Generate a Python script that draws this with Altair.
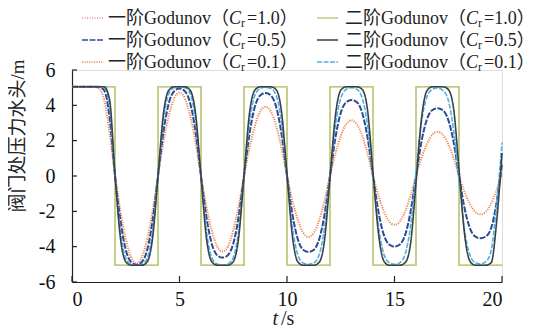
import altair as alt
import pandas as pd

# ---------------- data ----------------
t_grid = [0, 0.25, 0.5, 0.75, 1,
          1.25, 1.5, 1.75, 2, 2.25, 2.5, 2.75, 3, 3.25, 3.5, 3.75, 4,
          4.25, 4.5, 4.75, 5, 5.25, 5.5, 5.75, 6, 6.25, 6.5, 6.75, 7,
          7.25, 7.5, 7.75, 8, 8.25, 8.5, 8.75, 9, 9.25, 9.5, 9.75, 10,
          10.25, 10.5, 10.75, 11, 11.25, 11.5, 11.75, 12, 12.25, 12.5, 12.75, 13,
          13.25, 13.5, 13.75, 14, 14.25, 14.5, 14.75, 15, 15.25, 15.5, 15.75, 16,
          16.25, 16.5, 16.75, 17, 17.25, 17.5, 17.75, 18, 18.25, 18.5, 18.75, 19,
          19.25, 19.5, 19.75, 20]

# exact square wave (Cr = 1.0, both schemes)
sq_t = [0, 2, 2, 4, 4, 6, 6, 8, 8, 10, 10, 12, 12, 14, 14, 16, 16, 18, 18, 20]
sq_h = [5.05, 5.05, -5.05, -5.05, 5.05, 5.05, -5.05, -5.05, 5.05, 5.05,
        -5.05, -5.05, 5.05, 5.05, -5.05, -5.05, 5.05, 5.05, -5.05, -5.05]

# 一阶 Godunov, Cr = 0.1 (orange dotted)
h1_01 = [5.05, 5.05, 5.05, 5.05, 5.05,
         4.95, 4.3, 2.4, 0.1,
         -1.98, -3.56, -4.6, -4.95,
         -4.6, -3.56, -1.98, 0.0,
         1.9, 3.4, 4.39, 4.72,
         4.39, 3.4, 1.9, 0.0,
         -1.71, -3.08, -3.98, -4.28,
         -3.98, -3.08, -1.71, 0.0,
         1.57, 2.82, 3.65, 3.92,
         3.65, 2.82, 1.57, 0.0,
         -1.38, -2.48, -3.21, -3.45,
         -3.21, -2.48, -1.38, 0.0,
         1.26, 2.27, 2.93, 3.15,
         2.93, 2.27, 1.26, 0.0,
         -1.1, -1.99, -2.57, -2.76,
         -2.57, -1.99, -1.1, 0.0,
         1.0, 1.8, 2.33, 2.5,
         2.33, 1.8, 1.0, 0.0,
         -0.87, -1.56, -2.02, -2.17,
         -2.02, -1.56, -0.8, 0.1]

# 一阶 Godunov, Cr = 0.5 (navy dashed)
h1_05 = [5.05, 5.05, 5.05, 5.05, 5.05,
         5.05, 4.85, 3.3, 0.0,
         -2.51, -4.17, -4.87, -5.02,
         -4.87, -4.17, -2.51, 0.0,
         2.48, 4.11, 4.8, 4.95,
         4.8, 4.11, 2.48, 0.0,
         -2.31, -3.83, -4.48, -4.62,
         -4.48, -3.83, -2.31, 0.0,
         2.35, 3.9, 4.56, 4.7,
         4.56, 3.9, 2.35, 0.0,
         -2.15, -3.57, -4.17, -4.3,
         -4.17, -3.57, -2.15, 0.0,
         2.15, 3.57, 4.17, 4.3,
         4.17, 3.57, 2.15, 0.0,
         -2.0, -3.32, -3.88, -4.0,
         -3.88, -3.32, -2.0, 0.0,
         1.92, 3.18, 3.72, 3.83,
         3.72, 3.18, 1.92, 0.0,
         -1.77, -2.93, -3.42, -3.53,
         -3.42, -2.93, -1.5, 0.7]

# 二阶 Godunov, Cr = 0.1 (light blue dashed)
h2_01 = [5.05, 5.05, 5.05, 5.05, 5.05,
         5.05, 5.0, 3.9, 0.0,
         -3.13, -4.65, -5.0, -5.05,
         -5.0, -4.65, -3.13, 0.0,
         3.13, 4.65, 5.0, 5.05,
         5.0, 4.65, 3.13, 0.0,
         -3.1, -4.62, -4.98, -5.05,
         -4.98, -4.62, -3.1, 0.0,
         3.0, 4.55, 4.95, 5.02,
         4.95, 4.55, 3.0, 0.0,
         -2.9, -4.45, -4.92, -5.0,
         -4.92, -4.45, -2.9, 0.0,
         2.85, 4.4, 4.9, 5.0,
         4.9, 4.4, 2.85, 0.0,
         -2.8, -4.4, -4.9, -5.0,
         -4.9, -4.4, -2.8, 0.2,
         3.0, 4.45, 4.9, 4.98,
         4.85, 4.3, 2.6, -0.2,
         -3.0, -4.45, -4.9, -4.98,
         -4.85, -4.2, -1.6, 1.9]

# 二阶 Godunov, Cr = 0.5 (dark grey solid)
h2_05 = [5.05, 5.05, 5.05, 5.05, 5.05,
         5.05, 5.05, 4.3, 0.1,
         -3.5, -4.85, -5.05, -5.05,
         -5.05, -4.85, -3.5, 0.0,
         3.5, 4.85, 5.05, 5.05,
         5.05, 4.85, 3.5, 0.0,
         -3.5, -4.85, -5.05, -5.05,
         -5.05, -4.85, -3.5, 0.0,
         3.5, 4.85, 5.05, 5.05,
         5.05, 4.88, 3.6, 0.1,
         -3.4, -4.85, -5.05, -5.05,
         -5.05, -4.88, -3.6, -0.1,
         3.4, 4.85, 5.05, 5.05,
         5.05, 4.9, 3.7, 0.2,
         -3.2, -4.8, -5.05, -5.05,
         -5.05, -4.9, -3.8, -0.4,
         3.2, 4.8, 5.05, 5.05,
         5.05, 4.9, 3.8, 0.4,
         -3.2, -4.8, -5.05, -5.05,
         -5.05, -4.9, -2.6, 1.3]

x_ticks = [0, 5, 10, 15, 20]
y_ticks = [-6, -4, -2, 0, 2, 4, 6]

schemes = ["一阶", "一阶", "一阶", "二阶", "二阶", "二阶"]
courant = ["1.0", "0.5", "0.1", "1.0", "0.5", "0.1"]

# ---------------- styles ----------------
SERIF = "Liberation Serif, Noto Sans CJK SC"
W, H = 430, 212
styles = [
    dict(color="#e8504a", strokeDash=[1, 1.5], strokeWidth=1.2),   # 一阶 1.0
    dict(color="#2e4a94", strokeDash=[6, 1.5], strokeWidth=2),     # 一阶 0.5
    dict(color="#f08a55", strokeDash=[1.2, 1.2], strokeWidth=2),   # 一阶 0.1
    dict(color="#b8cf78", strokeDash=[1, 0], strokeWidth=1.6),     # 二阶 1.0
    dict(color="#3c3f44", strokeDash=[1, 0], strokeWidth=1.6),     # 二阶 0.5
    dict(color="#4fb3e3", strokeDash=[5, 1.5], strokeWidth=1.6),   # 二阶 0.1
]

xs = alt.Scale(domain=[0, 20], nice=False, zero=False)
ys = alt.Scale(domain=[-6, 6], nice=False, zero=False)
ax_x = alt.Axis(values=x_ticks, grid=False, ticks=False, domainColor="#222",
                domainWidth=1.2, labelFont=SERIF, labelFontSize=20,
                labelColor="#111", labelPadding=7, title=None, labelOverlap=False)
ax_y = alt.Axis(values=y_ticks, grid=False, ticks=False, domainColor="#222",
                domainWidth=1.2, labelFont=SERIF, labelFontSize=20,
                labelColor="#111", labelPadding=17, title=None, labelOverlap=False,
                labelExpr="replace(datum.label, '\u2212', '-')")

sq_df = pd.DataFrame({"t": sq_t, "h": sq_h, "i": list(range(len(sq_t)))})


def curve_df(vals):
    return pd.DataFrame({"t": t_grid, "h": vals, "i": list(range(len(t_grid)))})


def line_layer(df, k, interp="linear"):
    st = styles[k]
    return alt.Chart(df).mark_line(
        color=st["color"], strokeDash=st["strokeDash"],
        strokeWidth=st["strokeWidth"], interpolate=interp, clip=False
    ).encode(x=alt.X("t:Q", scale=xs, axis=ax_x),
             y=alt.Y("h:Q", scale=ys, axis=ax_y), order="i:Q")


layers = [
    line_layer(sq_df, 0),
    line_layer(sq_df, 3),
    line_layer(curve_df(h1_01), 2, "monotone"),
    line_layer(curve_df(h1_05), 1, "monotone"),
    line_layer(curve_df(h2_01), 5, "monotone"),
    line_layer(curve_df(h2_05), 4, "monotone"),
]

# inward ticks
ytk = alt.Chart(pd.DataFrame({"h": y_ticks})).mark_rule(color="#222", strokeWidth=1.2).encode(
    y=alt.Y("h:Q", scale=ys, axis=ax_y), x=alt.value(0), x2=alt.value(5))
xtk = alt.Chart(pd.DataFrame({"t": x_ticks})).mark_rule(color="#222", strokeWidth=1.2).encode(
    x=alt.X("t:Q", scale=xs, axis=ax_x), y=alt.value(H), y2=alt.value(H - 6))
layers += [ytk, xtk]

# legend (two columns, three rows)
one = pd.DataFrame({"a": [0]})
FS = 18
col_sym = [(10, 31), (245, 266)]
col_txt = [36, 273]
row_y = [-52, -30, -8]


def txt(text, x, y, size=FS, style="normal", align="left", baseline="middle", angle=0):
    return alt.Chart(one).mark_text(
        text=text, font=SERIF, fontSize=size, fontStyle=style, fontWeight="normal",
        color="#222", align=align, baseline=baseline, angle=angle
    ).encode(x=alt.value(x), y=alt.value(y))


for k in range(6):
    c, r = divmod(k, 3)
    st = styles[k]
    y = row_y[r]
    x0 = col_txt[c]
    layers.append(alt.Chart(one).mark_rule(
        color=st["color"], strokeDash=st["strokeDash"],
        strokeWidth=min(st["strokeWidth"], 1.6)).encode(
        x=alt.value(col_sym[c][0]), x2=alt.value(col_sym[c][1]), y=alt.value(y)))
    layers.append(txt(schemes[k] + "Godunov\uff08", x0, y + 1))
    layers.append(txt("C", x0 + 121, y + 1, style="italic"))
    layers.append(txt("r", x0 + 133, y + 5, size=12))
    layers.append(txt("=" + courant[k] + "\uff09", x0 + 139, y + 1))

# axis titles
layers.append(txt("阀门处压力水头/m", -54, 66, size=19, align="center", angle=270))
layers.append(txt("t", 206, 255, size=20, style="italic", align="right", baseline="alphabetic"))
layers.append(txt("/s", 209, 255, size=20, align="left", baseline="alphabetic"))

chart = alt.layer(*layers).properties(
    width=W, height=H, autosize="none",
    padding={"left": 64, "top": 62, "right": 35, "bottom": 46},
).configure_view(stroke=None).configure_axis(labelOverlap=False).configure(background="white")

chart.save("out.html", embed_options={"renderer": "svg", "actions": False})
